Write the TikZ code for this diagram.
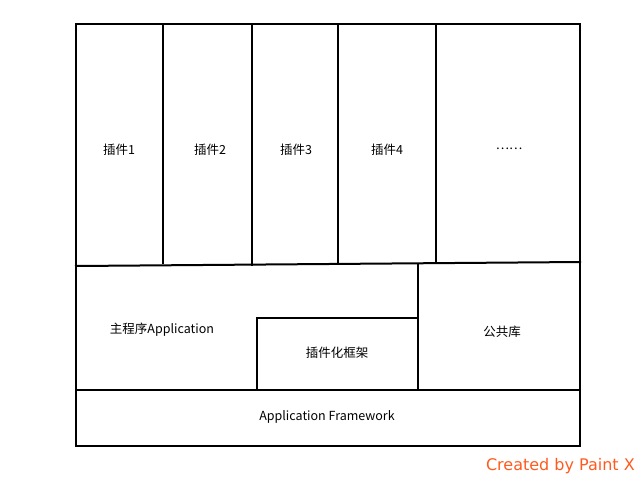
\documentclass[tikz,border=0pt]{standalone}
\usepackage{fontspec}
\setmainfont{Liberation Sans}
\newfontfamily\cjk{Noto Sans CJK SC}
\newfontfamily\dejavu{DejaVu Sans}
\definecolor{paintx}{HTML}{FF5A1E}
\begin{document}
\begin{tikzpicture}[x=1pt,y=-1pt,
  wall/.style={line width=2pt,line cap=rect},
  lbl/.style={font=\cjk\fontsize{12.5}{14}\selectfont,inner sep=0pt}]
\useasboundingbox[fill=white] (0,0) rectangle (640,480);
% outer frame
\draw[wall] (76,24) rectangle (580,446);
% plugin column separators
\draw[wall] (163,24) -- (163,263);
\draw[wall] (252,24) -- (252,265);
\draw[wall] (338,24) -- (338,264);
\draw[wall] (436,24) -- (436,263);
% slanted divider
\draw[wall] (76,266) -- (580,262);
% middle row
\draw[wall] (418,264) -- (418,390);
\draw[wall] (257,390) -- (257,318) -- (418,318);
\draw[wall] (76,390) -- (580,390);
% labels
\node[lbl] (p1) at (119,150) {插件1};
\node[lbl] (p2) at (210,150) {插件2};
\node[lbl] (p3) at (296,150) {插件3};
\node[lbl] (p4) at (387,150) {插件4};
\node[lbl] (pd) at (509,149) {……};
\node[lbl] (app) at (162,330) {主程序Application};
\node[lbl] (fw) at (337,353) {插件化框架};
\node[lbl] (lib) at (502,332) {公共库};
\node[lbl] (af) at (327,417) {Application Framework};
\node[font=\dejavu\fontsize{16}{18}\selectfont,text=paintx,inner sep=0pt,anchor=east] (cr) at (635,466) {Created by Paint X};
\end{tikzpicture}
\end{document}
